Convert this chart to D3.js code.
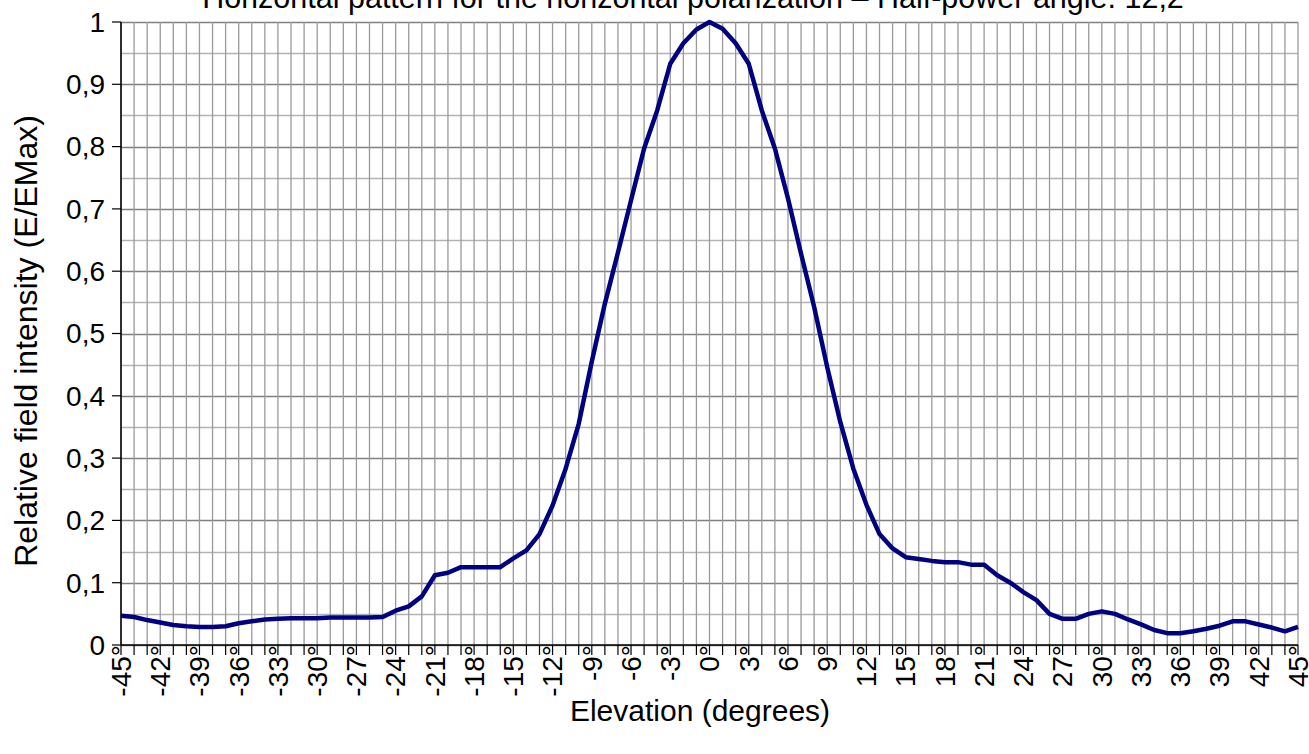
<!DOCTYPE html>
<html>
<head>
<meta charset="utf-8">
<script src="https://cdnjs.cloudflare.com/ajax/libs/d3/7.8.5/d3.min.js"></script>
<style>
  body { margin: 0; background: #fff; }
  text { font-family: "Liberation Sans", Arial, sans-serif; fill: #000; }
</style>
</head>
<body>
<div id="my_dataviz"></div>
<script>
// elevation angles (categories, one per degree)
var elevations = [-45, -44, -43, -42, -41, -40, -39, -38, -37, -36,
    -35, -34, -33, -32, -31, -30, -29, -28, -27, -26,
    -25, -24, -23, -22, -21, -20, -19, -18, -17, -16,
    -15, -14, -13, -12, -11, -10, -9, -8, -7, -6,
    -5, -4, -3, -2, -1, 0, 1, 2, 3, 4,
    5, 6, 7, 8, 9, 10, 11, 12, 13, 14,
    15, 16, 17, 18, 19, 20, 21, 22, 23, 24,
    25, 26, 27, 28, 29, 30, 31, 32, 33, 34,
    35, 36, 37, 38, 39, 40, 41, 42, 43, 44, 45];

// relative field intensity E/EMax
var intensity = [0.047, 0.045, 0.040, 0.036, 0.032, 0.030, 0.029, 0.029, 0.030, 0.035,
    0.038, 0.041, 0.042, 0.043, 0.043, 0.043, 0.044, 0.044, 0.044, 0.044,
    0.045, 0.055, 0.062, 0.078, 0.112, 0.116, 0.125, 0.125, 0.125, 0.125,
    0.139, 0.152, 0.178, 0.224, 0.283, 0.355, 0.455, 0.548, 0.630, 0.714,
    0.797, 0.858, 0.933, 0.966, 0.988, 1.000, 0.989, 0.966, 0.933, 0.858,
    0.797, 0.717, 0.628, 0.543, 0.446, 0.358, 0.283, 0.225, 0.178, 0.155,
    0.141, 0.138, 0.135, 0.133, 0.133, 0.129, 0.129, 0.112, 0.100, 0.085,
    0.072, 0.050, 0.042, 0.042, 0.050, 0.054, 0.050, 0.041, 0.033, 0.024,
    0.019, 0.019, 0.022, 0.026, 0.031, 0.038, 0.038, 0.033, 0.028, 0.022, 0.029];

// x labels every 3 degrees
var xTickValues = [-45, -42, -39, -36, -33, -30, -27, -24, -21, -18, -15, -12, -9, -6, -3,
    0, 3, 6, 9, 12, 15, 18, 21, 24, 27, 30, 33, 36, 39, 42, 45];
var xTickLabels = ["-45°", "-42°", "-39°", "-36°", "-33°", "-30°", "-27°", "-24°", "-21°", "-18°",
    "-15°", "-12°", "-9°", "-6°", "-3°", "0°", "3°", "6°", "9°", "12°", "15°", "18°", "21°",
    "24°", "27°", "30°", "33°", "36°", "39°", "42°", "45°"];

var yTickValues = [0, 0.1, 0.2, 0.3, 0.4, 0.5, 0.6, 0.7, 0.8, 0.9, 1];
var yTickLabels = ["0", "0,1", "0,2", "0,3", "0,4", "0,5", "0,6", "0,7", "0,8", "0,9", "1"];

var chartTitle = "Horizontal pattern for the horizontal polarization – Half-power angle: 12,2";

// set the dimensions and margins of the graph
var margin = { top: 22, right: 11, bottom: 109, left: 121 },
    width = 1309 - margin.left - margin.right,
    height = 754 - margin.top - margin.bottom;

var root = d3.select("#my_dataviz")
    .append("svg")
    .attr("width", 1309)
    .attr("height", 754);

var svg = root.append("g")
    .attr("transform", "translate(" + margin.left + "," + margin.top + ")");

var x = d3.scaleLinear().domain([-45, 45]).range([0, width]);
var y = d3.scaleLinear().domain([0, 1]).range([height, 0]);

// horizontal grid, every 0.05 (major every 0.1)
var hGrid = d3.range(0, 1.0001, 0.05);
svg.append("g").selectAll("line")
    .data(hGrid)
    .enter().append("line")
    .attr("x1", 0).attr("x2", width)
    .attr("y1", function(d) { return Math.round(y(d)) + 0.5; })
    .attr("y2", function(d) { return Math.round(y(d)) + 0.5; })
    .attr("stroke", function(d, i) { return i % 2 == 0 ? "#808080" : "#b3b3b3"; })
    .attr("stroke-width", 1.3);

// vertical grid, one per category
svg.append("g").selectAll("line")
    .data(elevations)
    .enter().append("line")
    .attr("x1", function(d) { return x(d); })
    .attr("x2", function(d) { return x(d); })
    .attr("y1", 0).attr("y2", height)
    .attr("stroke", "#9a9a9a")
    .attr("stroke-width", 1.3);

// X axis: ticks every degree, labels every 3
var xAxis = svg.append("g")
    .attr("transform", "translate(0," + height + ")");
xAxis.append("line")
    .attr("x1", 0).attr("x2", width)
    .attr("y1", 0).attr("y2", 0)
    .attr("stroke", "#000").attr("stroke-width", 1.5);
xAxis.selectAll(".tick")
    .data(elevations)
    .enter().append("line")
    .attr("x1", function(d) { return x(d); })
    .attr("x2", function(d) { return x(d); })
    .attr("y1", 0).attr("y2", 10)
    .attr("stroke", "#000").attr("stroke-width", 1.2);
xAxis.selectAll(".lab")
    .data(xTickValues)
    .enter().append("text")
    .attr("transform", function(d) { return "translate(" + x(d) + ",0) rotate(-90)"; })
    .attr("text-anchor", "end")
    .attr("dy", "0.35em")
    .style("font-size", "28px")
    .text(function(d, i) { return xTickLabels[i]; });

// Y axis
var yAxis = svg.append("g");
yAxis.append("line")
    .attr("x1", 0).attr("x2", 0)
    .attr("y1", 0).attr("y2", height)
    .attr("stroke", "#000").attr("stroke-width", 1.5);
yAxis.selectAll(".tick")
    .data(yTickValues)
    .enter().append("line")
    .attr("x1", -9).attr("x2", 0)
    .attr("y1", function(d) { return y(d); })
    .attr("y2", function(d) { return y(d); })
    .attr("stroke", "#000").attr("stroke-width", 1.2);
yAxis.selectAll(".lab")
    .data(yTickValues)
    .enter().append("text")
    .attr("x", -16)
    .attr("y", function(d) { return y(d); })
    .attr("dy", "0.35em")
    .attr("text-anchor", "end")
    .style("font-size", "28px")
    .text(function(d, i) { return yTickLabels[i]; });

// the pattern line
var line = d3.line()
    .x(function(d, i) { return x(elevations[i]); })
    .y(function(d) { return y(d); });
svg.append("path")
    .datum(intensity)
    .attr("d", line)
    .attr("fill", "none")
    .attr("stroke", "#000080")
    .attr("stroke-width", 4.5)
    .attr("stroke-linejoin", "round");

// titles
root.append("text")
    .attr("x", 693).attr("y", 8)
    .attr("text-anchor", "middle")
    .style("font-size", "30.5px")
    .text(chartTitle);

root.append("text")
    .attr("x", 700).attr("y", 721)
    .attr("text-anchor", "middle")
    .style("font-size", "30px")
    .text("Elevation (degrees)");

root.append("text")
    .attr("transform", "translate(36.5,341) rotate(-90)")
    .attr("text-anchor", "middle")
    .style("font-size", "32px")
    .text("Relative field intensity (E/EMax)");
</script>
</body>
</html>
